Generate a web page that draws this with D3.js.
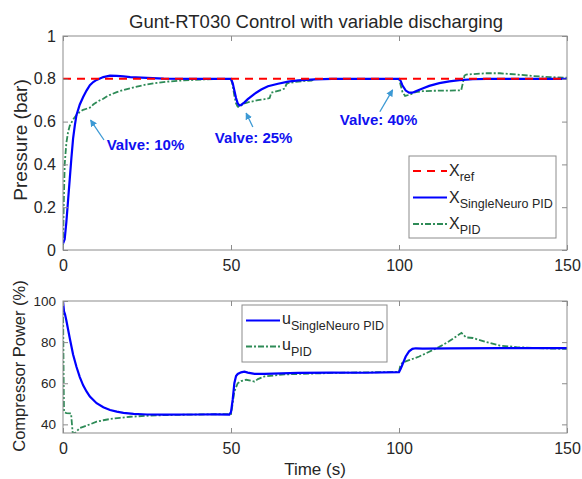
<!DOCTYPE html>
<html>
<head>
<meta charset="utf-8">
<script src="https://cdn.jsdelivr.net/npm/d3@7"></script>
<style>
  body { margin: 0; background: #fff; }
  text { font-family: "Liberation Sans", Arial, sans-serif; }
</style>
</head>
<body>
<div id="chart"></div>
<script>
// ---- data ----
var refTime = [0, 150];
var refVals = [0.8, 0.8];

var snTime = [0, 0.5, 1, 1.5, 2, 2.5, 3, 3.5, 4, 5, 6, 7, 8, 9, 10, 12, 14, 16, 18, 20, 25, 30, 40, 50,
  50.5, 51, 51.5, 52, 52.5, 53, 54, 55, 57, 59, 61, 64, 67, 70, 75, 80, 100,
  100.5, 101, 102, 103, 104, 105, 107, 109, 112, 115, 118, 122, 126, 150];
var snVals = [0.03, 0.05, 0.13, 0.23, 0.33, 0.43, 0.52, 0.58, 0.63, 0.68, 0.715, 0.745, 0.77, 0.785, 0.795, 0.808, 0.815, 0.814, 0.811, 0.808, 0.804, 0.801, 0.8, 0.8,
  0.78, 0.745, 0.71, 0.685, 0.675, 0.678, 0.69, 0.705, 0.73, 0.75, 0.765, 0.777, 0.787, 0.793, 0.797, 0.8, 0.8,
  0.79, 0.77, 0.745, 0.735, 0.735, 0.742, 0.755, 0.767, 0.78, 0.788, 0.794, 0.798, 0.8, 0.8];

var pidTime = [0, 0.2, 0.5, 1, 1.5, 2, 3, 4, 5, 6, 7, 8, 8.5, 9, 10, 11, 12, 13, 14, 16, 18, 20, 22, 25, 28, 32, 36, 42, 50,
  50.5, 51, 51.5, 52, 52.5, 53, 54, 55, 56, 58, 60, 61.5, 62, 63, 65, 66, 66.5, 67, 69, 72, 74, 75, 100,
  100.5, 101, 101.8, 103, 105, 107, 110, 118.5, 119, 119.5, 120, 122, 126, 130, 135, 140, 145, 150];
var pidVals = [0, 0.2, 0.4, 0.5, 0.55, 0.58, 0.61, 0.63, 0.645, 0.655, 0.66, 0.665, 0.67, 0.68, 0.69, 0.7, 0.707, 0.717, 0.725, 0.738, 0.748, 0.756, 0.764, 0.774, 0.781, 0.788, 0.793, 0.797, 0.8,
  0.77, 0.72, 0.685, 0.67, 0.668, 0.675, 0.685, 0.69, 0.693, 0.7, 0.705, 0.71, 0.735, 0.74, 0.748, 0.755, 0.775, 0.78, 0.785, 0.79, 0.792, 0.8, 0.8,
  0.77, 0.74, 0.72, 0.725, 0.738, 0.742, 0.744, 0.746, 0.78, 0.815, 0.82, 0.822, 0.826, 0.826, 0.82, 0.813, 0.808, 0.805];

var uSnTime = [0, 0.3, 0.6, 1, 2, 3, 4, 5, 6, 7, 8, 10, 12, 14, 16, 18, 21, 25, 30, 40, 45, 49.5,
  50, 50.5, 51, 51.5, 52, 53, 54, 55, 57, 60, 70, 80, 90, 100,
  100.5, 101, 102, 103, 104, 105, 107, 115, 130, 150];
var uSnVals = [100, 95, 93.5, 90.5, 82, 74, 68, 63, 59, 56, 53.5, 50.3, 48.3, 47, 46.2, 45.6, 45.1, 44.8, 44.7, 44.8, 44.9, 44.7,
  46, 52, 60, 63.5, 64.5, 65.3, 65.6, 65.2, 64.6, 64.6, 65, 65.2, 65.1, 65.4,
  67, 69, 73, 75.5, 76.7, 77, 76.8, 77, 77.1, 77.1];

var uPidTime = [0, 0.1, 0.2, 0.3, 1, 2.4, 2.9, 3.7, 5, 6, 8, 10, 12, 14, 17, 20, 25, 30, 40, 50,
  50.3, 51, 52, 53, 54.5, 56, 57, 58, 60, 63, 66, 70, 80, 90, 100,
  100.3, 101, 103, 106, 109, 112, 115, 118.6, 119.5, 120, 122, 126, 130, 135, 140, 150];
var uPidVals = [98, 80, 60, 46, 45.5, 45.3, 35.5, 36, 38.2, 38.8, 40, 41.3, 42, 42.6, 43.2, 43.7, 44.2, 44.5, 44.8, 45,
  48, 56, 60, 61, 61.7, 61.2, 60.8, 62, 63.3, 63.8, 64.3, 64.5, 65, 65.3, 65.5,
  68, 70, 71.2, 73, 75.3, 77.7, 80.5, 84.5, 83, 82.3, 82, 80, 78.3, 77.6, 77.1, 76.7];

var xTicks = [0, 50, 100, 150];
var pTicks = [0, 0.2, 0.4, 0.6, 0.8, 1];
var uTicks = [40, 60, 80, 100];

var notes = [
  { label: "Valve: 10%", tx: 13, ty: 0.49, ax: 12.2, ay: 0.514, hx: 8.2, hy: 0.607 },
  { label: "Valve: 25%", tx: 45.2, ty: 0.523, ax: 56.5, ay: 0.575, hx: 54.5, hy: 0.64 },
  { label: "Valve: 40%", tx: 82.4, ty: 0.607, ax: 94.3, ay: 0.646, hx: 98.1, hy: 0.748 }
];

// ---- layout ----
var svgWidth = 582, svgHeight = 479;
var left = 63, right = 567;
var top1 = 36, bottom1 = 250;
var top2 = 301, bottom2 = 433;

var axisColor = "#8c8c8c";
var textColor = "#262626";
var blue = "#0000ff", green = "#2e8b57", red = "#ff0000";

var svg = d3.select("#chart").append("svg")
  .attr("width", svgWidth)
  .attr("height", svgHeight);

svg.append("defs").append("marker")
  .attr("id", "head")
  .attr("viewBox", "0 0 10 10")
  .attr("refX", 9).attr("refY", 5)
  .attr("markerWidth", 7).attr("markerHeight", 7)
  .attr("markerUnits", "userSpaceOnUse")
  .attr("orient", "auto")
  .append("path")
  .attr("d", "M0,0 L10,5 L0,10 Z")
  .attr("fill", "#3c99d4");

var x = d3.scaleLinear().domain([0, 150]).range([left, right]);
var yP = d3.scaleLinear().domain([0, 1]).range([bottom1, top1]);
var yU = d3.scaleLinear().domain([35.8, 100]).range([bottom2, top2]);

function zip(ts, vs) { return ts.map((t, i) => [t, vs[i]]); }

function drawAxes(yScale, yTicks, yTop, yBot, yFont) {
  var g = svg.append("g");
  // bottom / top axis ticks (inside)
  var xb = g.append("g").attr("transform", `translate(0,${yBot})`)
    .call(d3.axisBottom(x).tickValues(xTicks).tickSize(-5).tickPadding(10));
  xb.select(".domain").remove();
  xb.selectAll("text").style("font-size", "16px");
  g.append("g").attr("transform", `translate(0,${yTop})`)
    .call(d3.axisTop(x).tickValues(xTicks).tickSize(-5).tickFormat(""))
    .call(a => a.select(".domain").remove());
  var yl = g.append("g").attr("transform", `translate(${left},0)`)
    .call(d3.axisLeft(yScale).tickValues(yTicks).tickSize(-5).tickPadding(7).tickFormat(d3.format("")));
  yl.select(".domain").remove();
  yl.selectAll("text").style("font-size", yFont + "px");
  g.append("g").attr("transform", `translate(${right},0)`)
    .call(d3.axisRight(yScale).tickValues(yTicks).tickSize(-5).tickFormat(""))
    .call(a => a.select(".domain").remove());
  g.selectAll(".tick line").attr("stroke", axisColor);
  g.selectAll(".tick text").attr("fill", textColor)
    .style("font-family", "'Liberation Sans', Arial, sans-serif");
  g.append("rect")
    .attr("x", left).attr("y", yTop)
    .attr("width", right - left).attr("height", yBot - yTop)
    .attr("fill", "none").attr("stroke", axisColor).attr("stroke-width", 1);
  return g;
}

var lineP = d3.line().x(d => x(d[0])).y(d => yP(d[1]));
var lineU = d3.line().x(d => x(d[0])).y(d => yU(d[1]));

// ---- top panel ----
svg.append("clipPath").attr("id", "c1").append("rect")
  .attr("x", left).attr("y", top1).attr("width", right - left).attr("height", bottom1 - top1);
var g1 = svg.append("g").attr("clip-path", "url(#c1)");

g1.append("path").datum(zip(pidTime, pidVals))
  .attr("d", lineP).attr("fill", "none").attr("stroke", green)
  .attr("stroke-width", 1.8).attr("stroke-dasharray", "6,2,2,2");
g1.append("path").datum(zip(snTime, snVals))
  .attr("d", lineP).attr("fill", "none").attr("stroke", blue).attr("stroke-width", 2.2);
g1.append("path").datum(zip(refTime, refVals))
  .attr("d", lineP).attr("fill", "none").attr("stroke", red)
  .attr("stroke-width", 2).attr("stroke-dasharray", "8,6");

drawAxes(yP, pTicks, top1, bottom1, 16);

// annotations
notes.forEach(function(n) {
  svg.append("line")
    .attr("x1", x(n.ax)).attr("y1", yP(n.ay))
    .attr("x2", x(n.hx)).attr("y2", yP(n.hy))
    .attr("stroke", "#3c99d4").attr("stroke-width", 1.3)
    .attr("marker-end", "url(#head)");
  svg.append("text")
    .attr("x", x(n.tx)).attr("y", yP(n.ty))
    .attr("dy", "0.35em")
    .attr("fill", "#1010f0")
    .style("font-size", "15px").style("font-weight", "bold")
    .text(n.label);
});

// legend top
var leg1 = svg.append("g");
leg1.append("rect").attr("x", 409).attr("y", 156).attr("width", 147).attr("height", 82)
  .attr("fill", "#fff").attr("stroke", axisColor);
var leg1Items = [
  { sub: "ref", color: red, dash: "8,6", w: 2 },
  { sub: "SingleNeuro PID", color: blue, dash: null, w: 2.2 },
  { sub: "PID", color: green, dash: "6,2,2,2", w: 1.8 }
];
leg1Items.forEach(function(d, i) {
  var yy = 171 + i * 26.5;
  leg1.append("line").attr("x1", 413).attr("x2", 447).attr("y1", yy).attr("y2", yy)
    .attr("stroke", d.color).attr("stroke-width", d.w).attr("stroke-dasharray", d.dash);
  var t = leg1.append("text").attr("x", 449).attr("y", yy + 5).attr("fill", textColor)
    .style("font-size", "16px");
  t.append("tspan").text("X");
  t.append("tspan").attr("dy", 5).style("font-size", "12.5px").text(d.sub);
});

// titles
svg.append("text").attr("x", 316).attr("y", 28).attr("text-anchor", "middle")
  .attr("fill", textColor).style("font-size", "18.5px")
  .text("Gunt-RT030 Control with variable discharging");
svg.append("text").attr("transform", "translate(27,140) rotate(-90)")
  .attr("text-anchor", "middle").attr("fill", textColor).style("font-size", "19px")
  .text("Pressure (bar)");

// ---- bottom panel ----
svg.append("clipPath").attr("id", "c2").append("rect")
  .attr("x", left).attr("y", top2).attr("width", right - left).attr("height", bottom2 - top2);
var g2 = svg.append("g").attr("clip-path", "url(#c2)");

g2.append("path").datum(zip(uPidTime, uPidVals))
  .attr("d", lineU).attr("fill", "none").attr("stroke", green)
  .attr("stroke-width", 1.8).attr("stroke-dasharray", "6,2,2,2");
g2.append("path").datum(zip(uSnTime, uSnVals))
  .attr("d", lineU).attr("fill", "none").attr("stroke", blue).attr("stroke-width", 2.2);

drawAxes(yU, uTicks, top2, bottom2, 13.5);

// legend bottom
var leg2 = svg.append("g");
leg2.append("rect").attr("x", 242).attr("y", 305).attr("width", 145).attr("height", 57)
  .attr("fill", "#fff").attr("stroke", axisColor);
var leg2Items = [
  { sub: "SingleNeuro PID", color: blue, dash: null, w: 2.2 },
  { sub: "PID", color: green, dash: "6,2,2,2", w: 1.8 }
];
leg2Items.forEach(function(d, i) {
  var yy = 320.5 + i * 26;
  leg2.append("line").attr("x1", 246).attr("x2", 280).attr("y1", yy).attr("y2", yy)
    .attr("stroke", d.color).attr("stroke-width", d.w).attr("stroke-dasharray", d.dash);
  var t = leg2.append("text").attr("x", 282).attr("y", yy + 3).attr("fill", textColor)
    .style("font-size", "16px");
  t.append("tspan").text("u");
  t.append("tspan").attr("dy", 6).style("font-size", "12.5px").text(d.sub);
});

svg.append("text").attr("transform", "translate(25,366) rotate(-90)")
  .attr("text-anchor", "middle").attr("fill", textColor).style("font-size", "16.5px")
  .text("Compressor Power (%)");
svg.append("text").attr("x", 315).attr("y", 475).attr("text-anchor", "middle")
  .attr("fill", textColor).style("font-size", "17px")
  .text("Time (s)");
</script>
</body>
</html>
